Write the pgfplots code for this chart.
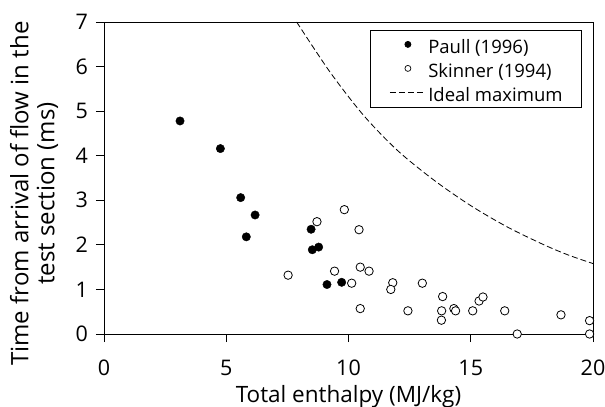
\documentclass[border=0pt]{standalone}
\usepackage{pgfplots}
\pgfplotsset{compat=1.18}
\usepackage{fontspec}
\setmainfont{Open Sans}
\begin{document}
\fontsize{21bp}{24bp}\selectfont
\begin{tikzpicture}
\path[use as bounding box] (-104bp,-73bp) rectangle (501bp,334bp);
\begin{axis}[
  at={(0,0)}, anchor=south west,
  scale only axis, width=489bp, height=312bp,
  xmin=0, xmax=20, ymin=0, ymax=7,
  xtick={0,5,10,15,20}, ytick={0,1,2,3,4,5,6,7},
  tick align=outside, xtick pos=bottom, ytick pos=left,
  major tick length=8bp,
  axis line style={line width=0.8bp},
  every tick/.style={line width=0.8bp, black},
  clip=false,
  /pgf/number format/assume math mode=true,
  tick label style={font=\fontsize{21.5bp}{24bp}\selectfont},
  xticklabel style={anchor=base, yshift=-33bp},
  yticklabel style={anchor=east, xshift=-1bp},
  xlabel={Total enthalpy (MJ/kg)},
  xlabel style={at={(axis description cs:0.5,0)}, anchor=base, yshift=-68bp, font=\fontsize{22.5bp}{24bp}\selectfont},
  ylabel={Time from arrival of flow in the\\test section (ms)},
  ylabel style={at={(axis description cs:-0.143,0.45)}, anchor=center, align=center, font=\fontsize{24bp}{26bp}\selectfont},
  legend style={at={(axis description cs:0.9775,0.9744)}, anchor=north east, draw=black, line width=0.8bp,
    font=\fontsize{18.5bp}{24bp}\selectfont, row sep=7bp, inner xsep=19bp, inner ysep=6bp,
    nodes={inner sep=0pt, text height=17bp, text depth=0bp},
    /tikz/every odd column/.append style={column sep=5bp}},
  legend cell align=left,
]
\addplot[only marks, mark=*, mark size=4.2bp, mark options={fill=black, draw=black},
  legend image code/.code={\path[draw=none, fill=none] (0bp,0bp) -- (33bp,0bp); \fill[black] (18bp,0.5bp) circle (3bp);}]
  coordinates {(3.11,4.78) (4.76,4.16) (5.59,3.06) (6.18,2.67) (5.82,2.18)
               (8.47,2.35) (8.52,1.89) (8.78,1.95) (9.12,1.11) (9.72,1.16)};
\addlegendentry{Paull (1996)}
\addplot[only marks, mark=*, mark size=4.2bp, mark options={fill=white, draw=black, line width=0.8bp},
  legend image code/.code={\path[draw=none, fill=none] (0bp,0bp) -- (33bp,0bp); \draw[black, fill=white, line width=0.7bp] (18bp,0.5bp) circle (3bp);}]
  coordinates {(7.53,1.32) (8.71,2.52) (9.83,2.79) (9.43,1.41) (10.13,1.14)
               (10.43,2.34) (10.48,1.50) (10.84,1.41) (10.48,0.57) (11.81,1.15)
               (11.73,1.00) (12.43,0.52) (13.02,1.14) (13.85,0.84) (13.81,0.52)
               (13.80,0.31) (14.31,0.57) (14.38,0.52) (15.08,0.52) (15.34,0.74)
               (15.50,0.83) (16.39,0.52) (16.90,0.0) (18.69,0.43) (19.86,0.30) (19.86,0.0)};
\addlegendentry{Skinner (1994)}
\addplot[smooth, black, line width=0.8bp, dash pattern=on 6bp off 3bp,
  legend image code/.code={\draw[black, line width=0.8bp, dash pattern=on 6bp off 3bp] (0bp,0.5bp) -- (33bp,0.5bp);}]
  coordinates {(7.88,7.0) (9.24,5.88) (10.61,4.91) (12.0,4.12) (13.5,3.45)
               (15.0,2.88) (16.5,2.40) (18.0,2.00) (19.0,1.77) (20,1.58)};
\addlegendentry{Ideal maximum}
\end{axis}
\end{tikzpicture}
\end{document}
